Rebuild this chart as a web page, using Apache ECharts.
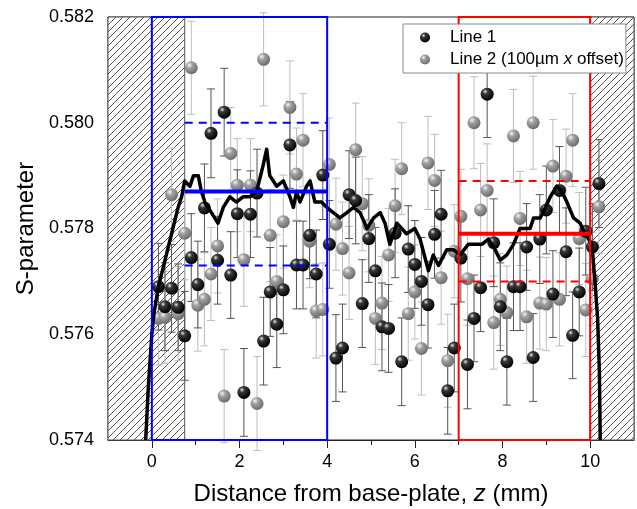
<!DOCTYPE html>
<html>
<head>
<meta charset="utf-8">
<script src="https://cdn.jsdelivr.net/npm/echarts@6/dist/echarts.min.js"></script>
<style>
html,body{margin:0;padding:0;background:#fff;}
#chart{width:637px;height:509px;}
</style>
</head>
<body>
<div id="chart"></div>
<script>
// ---- data ----
const xPos = [0.15,0.30,0.45,0.60,0.75,0.90,1.05,1.20,1.35,1.50,1.65,1.80,1.95,2.10,2.25,2.40,2.55,2.70,2.85,3.00,
  3.15,3.30,3.45,3.60,3.75,3.90,4.05,4.20,4.35,4.50,4.65,4.80,4.95,5.10,5.25,5.40,5.55,5.70,5.85,6.00,
  6.15,6.30,6.45,6.60,6.75,6.90,7.05,7.20,7.35,7.50,7.65,7.80,7.95,8.10,8.25,8.40,8.55,8.70,8.85,9.00,
  9.15,9.30,9.45,9.60,9.75,9.90,10.05,10.20];
const line1 = [0.57690,0.57652,0.57687,0.57651,0.57597,0.57745,0.57694,0.57839,0.57980,0.57740,0.58020,0.57712,0.57828,0.57490,0.57827,0.57867,0.57587,0.57680,0.57619,0.57684,
  0.57958,0.57731,0.57731,0.57787,0.57714,0.57901,0.57770,0.57555,0.57574,0.57864,0.57853,0.57658,0.57781,0.57720,0.57614,0.57611,0.57791,0.57548,0.57761,0.57732,
  0.57700,0.57656,0.57789,0.57827,0.57493,0.57574,0.57744,0.57543,0.57630,0.57688,0.58054,0.57773,0.57652,0.57548,0.57690,0.57690,0.57765,0.57556,0.57780,0.57835,
  0.57676,0.57872,0.57756,0.57598,0.57680,0.57795,0.57765,0.57885];
const line1Err = [0.00082,0.00083,0.00083,0.00082,0.00084,0.00083,0.00082,0.00083,0.00084,0.00083,0.00083,0.00082,0.00083,0.00083,0.00082,0.00083,0.00083,0.00084,0.00082,0.00083,
  0.00082,0.00083,0.00083,0.00082,0.00083,0.00084,0.00083,0.00082,0.00083,0.00083,0.00082,0.00083,0.00083,0.00082,0.00083,0.00083,0.00084,0.00083,0.00082,0.00083,
  0.00083,0.00082,0.00083,0.00083,0.00082,0.00083,0.00083,0.00084,0.00082,0.00083,0.00082,0.00083,0.00083,0.00082,0.00083,0.00083,0.00082,0.00083,0.00084,0.00083,
  0.00082,0.00083,0.00083,0.00082,0.00083,0.00083,0.00082,0.00083];
const line2 = [0.57630,0.57632,0.57864,0.57639,0.57791,0.58104,0.57655,0.57666,0.57714,0.57767,0.57483,0.57942,0.57882,0.57741,0.57882,0.57469,0.58120,0.57787,0.57700,0.57813,
  0.58029,0.57903,0.57967,0.57776,0.57644,0.57647,0.57921,0.57808,0.57762,0.57716,0.57949,0.57847,0.57806,0.57630,0.57659,0.57750,0.57843,0.57913,0.57639,0.57680,
  0.57573,0.57924,0.57891,0.57707,0.57550,0.57757,0.57823,0.57705,0.58000,0.57835,0.57872,0.57622,0.57666,0.57641,0.57975,0.57819,0.57633,0.58000,0.57659,0.57657,
  0.57918,0.57666,0.57899,0.57967,0.57781,0.57646,0.57705,0.57841];
const line2Err = [0.00088,0.00087,0.00088,0.00089,0.00088,0.00088,0.00087,0.00088,0.00088,0.00089,0.00088,0.00087,0.00088,0.00088,0.00088,0.00089,0.00088,0.00087,0.00088,0.00088,
  0.00088,0.00087,0.00088,0.00088,0.00089,0.00088,0.00088,0.00087,0.00088,0.00088,0.00088,0.00089,0.00088,0.00087,0.00088,0.00088,0.00088,0.00087,0.00088,0.00089,
  0.00088,0.00088,0.00087,0.00088,0.00088,0.00088,0.00089,0.00088,0.00087,0.00088,0.00088,0.00088,0.00087,0.00088,0.00088,0.00089,0.00088,0.00088,0.00087,0.00088,
  0.00088,0.00088,0.00089,0.00088,0.00087,0.00088,0.00088,0.00088];
// running average (thick black curve)
const avgX = [-0.14,-0.08,0.00,0.05,0.15,0.30,0.45,0.60,0.68,0.75,0.87,0.95,1.06,1.13,1.21,1.36,1.51,1.63,1.78,1.93,
  2.08,2.24,2.39,2.54,2.62,2.69,2.85,3.00,3.15,3.23,3.30,3.38,3.53,3.61,3.72,3.87,3.99,4.14,4.29,4.45,
  4.60,4.75,4.91,5.06,5.21,5.32,5.43,5.59,5.81,6.00,6.12,6.31,6.42,6.54,6.73,6.88,7.03,7.22,7.37,7.53,
  7.68,7.83,7.95,8.10,8.25,8.40,8.48,8.63,8.71,8.86,8.98,9.09,9.24,9.35,9.47,9.62,9.77,9.89,10.04,10.11,
  10.17,10.21,10.23];
const avgY = [0.5740,0.5750,0.5760,0.5764,0.5769,0.5774,0.5779,0.5784,0.5786,0.5789,0.5788,0.5790,0.5790,0.5787,0.5785,0.5783,0.5781,0.5784,0.5786,0.5785,
  0.5786,0.5786,0.5787,0.5792,0.5795,0.5790,0.5788,0.5789,0.5786,0.5784,0.5787,0.5785,0.5788,0.5789,0.5785,0.5785,0.5784,0.5783,0.5782,0.5783,
  0.5784,0.5783,0.5780,0.5782,0.5783,0.5781,0.5777,0.5781,0.5779,0.5780,0.5778,0.5772,0.5775,0.5773,0.5776,0.5776,0.5775,0.5777,0.5777,0.5777,
  0.5778,0.5776,0.5774,0.5775,0.5777,0.5780,0.5780,0.5780,0.5782,0.5782,0.5784,0.5786,0.5788,0.5787,0.5785,0.5782,0.5781,0.5779,0.5777,0.5770,
  0.5763,0.5753,0.5740];
// regions and statistics
const hatchLeft = [-1, 0.75];
const hatchRight = [10, 11];
const blueBox = [0, 4];
const redBox = [7, 10];
const blueSpan = [0.75, 4];
const redSpan = [7, 10];
const blueMean = 0.5787, blueUpper = 0.5800, blueLower = 0.5773;
const redMean = 0.5779, redUpper = 0.5789, redLower = 0.5770;
const yRange = [0.574, 0.582];
const xMajorTicks = [0, 2, 4, 6, 8, 10];
const xMinorTicks = [1, 3, 5, 7, 9];

// ---- build ----
const T = 7;
const pc = document.createElement('canvas');
pc.width = T; pc.height = T;
const g = pc.getContext('2d');
g.fillStyle = '#fff'; g.fillRect(0, 0, T, T);
g.strokeStyle = '#1a1a1a'; g.lineWidth = 0.75;
g.beginPath();
g.moveTo(0, T); g.lineTo(T, 0);
g.moveTo(-1, 1); g.lineTo(1, -1);
g.moveTo(T - 1, T + 1); g.lineTo(T + 1, T - 1);
g.stroke();
const hatchPattern = { image: pc, repeat: 'repeat' };

const pts1 = xPos.map((x, i) => [x, line1[i]]);
const pts2 = xPos.map((x, i) => [x, line2[i]]);
const eb1 = xPos.map((x, i) => [x, line1[i] - line1Err[i], line1[i] + line1Err[i]]);
const eb2 = xPos.map((x, i) => [x, line2[i] - line2Err[i], line2[i] + line2Err[i]]);
const avgPts = avgX.map((x, i) => [x, avgY[i]]);

function errRender(col) {
  return function (params, api) {
    const x = api.value(0), lo = api.value(1), hi = api.value(2);
    const p1 = api.coord([x, lo]), p2 = api.coord([x, hi]);
    const w = 4;
    const st = { stroke: col, lineWidth: 1 };
    return { type: 'group', children: [
      { type: 'line', shape: { x1: p1[0], y1: p1[1], x2: p2[0], y2: p2[1] }, style: st },
      { type: 'line', shape: { x1: p1[0] - w, y1: p1[1], x2: p1[0] + w, y2: p1[1] }, style: st },
      { type: 'line', shape: { x1: p2[0] - w, y1: p2[1], x2: p2[0] + w, y2: p2[1] }, style: st }
    ] };
  };
}
function rectRender(fill, stroke, lw) {
  return function (params, api) {
    const a = api.coord([api.value(0), api.value(3)]);
    const b = api.coord([api.value(1), api.value(2)]);
    return { type: 'rect', shape: { x: a[0], y: a[1], width: b[0] - a[0], height: b[1] - a[1] },
      style: { fill: fill, stroke: stroke, lineWidth: lw } };
  };
}
function segLine(name, span, val, color, width, dash, z) {
  return { type: 'line', name: name, data: [[span[0], val], [span[1], val]], showSymbol: false, symbol: 'none',
    lineStyle: { color: color, width: width, type: dash }, z: z, silent: true };
}
const blackBall = { type: 'radial', x: 0.35, y: 0.3, r: 0.7, colorStops: [
  { offset: 0, color: '#e6e6e6' }, { offset: 0.28, color: '#3a3a3a' }, { offset: 1, color: '#000' }] };
const grayBall = { type: 'radial', x: 0.35, y: 0.3, r: 0.7, colorStops: [
  { offset: 0, color: '#f4f4f4' }, { offset: 0.35, color: '#a0a0a0' }, { offset: 1, color: '#6e6e6e' }] };
const FONT = 'Liberation Sans, Arial, sans-serif';

const chart = echarts.init(document.getElementById('chart'));
chart.setOption({
  animation: false,
  backgroundColor: '#fff',
  textStyle: { fontFamily: FONT },
  grid: { left: 108, right: 3, top: 17, bottom: 69, show: true, borderColor: '#222', borderWidth: 1,
    backgroundColor: 'transparent', outerBoundsMode: 'none' },
  legend: {
    data: ['Line 1', 'Line 2 (100µm x offset)'],
    orient: 'vertical', left: 403, top: 24,
    padding: [5, 2, 5, 17], itemGap: 5,
    itemWidth: 10, itemHeight: 10, icon: 'circle',
    backgroundColor: '#fff', borderColor: '#888', borderWidth: 1, borderRadius: 0,
    formatter: function (n) { return n === 'Line 1' ? '{n|Line 1}' : '{n|Line 2 (100µm }{i|x}{n| offset)}'; },
    textStyle: { fontFamily: FONT, fontSize: 17, color: '#000', padding: [0, 0, 0, 15],
      rich: { n: { fontFamily: FONT, fontSize: 17, color: '#000' }, i: { fontFamily: FONT, fontSize: 17, color: '#000', fontStyle: 'italic' } } },
    z: 20
  },
  xAxis: [{
    type: 'value', min: -1, max: 11, position: 'bottom',
    name: 'Distance from base-plate, {i|z} (mm)', nameLocation: 'middle', nameGap: 42,
    nameTextStyle: { fontFamily: FONT, fontSize: 24, color: '#000',
      rich: { i: { fontFamily: FONT, fontSize: 24, color: '#000', fontStyle: 'italic' } } },
    axisLine: { show: true, lineStyle: { color: '#222', width: 1 } },
    axisTick: { show: true, inside: false, length: 8, customValues: xMajorTicks, lineStyle: { color: '#222' } },
    axisLabel: { show: true, customValues: xMajorTicks, margin: 13, fontSize: 18, color: '#000', fontFamily: FONT },
    splitLine: { show: false }
  }, {
    type: 'value', min: -1, max: 11, position: 'bottom', offset: 0,
    axisLine: { show: false },
    axisTick: { show: true, length: 5, customValues: xMinorTicks, lineStyle: { color: '#222' } },
    axisLabel: { show: false },
    splitLine: { show: false }
  }],
  yAxis: {
    type: 'value', min: yRange[0], max: yRange[1], interval: 0.002,
    name: 'S-parameter', nameLocation: 'middle', nameGap: 70,
    nameTextStyle: { fontFamily: FONT, fontSize: 24, color: '#000' },
    axisLine: { show: true, lineStyle: { color: '#222', width: 1 } },
    axisTick: { show: true, length: 8, lineStyle: { color: '#222' } },
    minorTick: { show: true, splitNumber: 2, length: 5, lineStyle: { color: '#222' } },
    axisLabel: { margin: 14, fontSize: 18, color: '#000', fontFamily: FONT,
      formatter: v => v.toFixed(3) },
    splitLine: { show: false }
  },
  series: [
    { type: 'custom', name: 'hatch', renderItem: rectRender(hatchPattern, '#555', 1),
      data: [[hatchLeft[0], hatchLeft[1], yRange[0], yRange[1]], [hatchRight[0], hatchRight[1], yRange[0], yRange[1]]],
      encode: { x: [0, 1], y: [2, 3] }, z: 1, silent: true },
    { type: 'custom', name: 'err2', renderItem: errRender('#bdbdbd'), data: eb2, encode: { x: 0, y: [1, 2] }, z: 2, silent: true },
    { type: 'custom', name: 'err1', renderItem: errRender('#555'), data: eb1, encode: { x: 0, y: [1, 2] }, z: 3, silent: true },
    { type: 'scatter', name: 'Line 2 (100µm x offset)', data: pts2, symbol: 'circle', symbolSize: 13,
      itemStyle: { color: grayBall, opacity: 1 }, z: 4 },
    { type: 'scatter', name: 'Line 1', data: pts1, symbol: 'circle', symbolSize: 13,
      itemStyle: { color: blackBall, opacity: 1 }, z: 5 },
    { type: 'line', name: 'avg', data: avgPts, showSymbol: false, symbol: 'none',
      lineStyle: { color: '#000', width: 3.5, join: 'round' }, z: 6, silent: true },
    segLine('bm', blueSpan, blueMean, '#0000ff', 4, 'solid', 7),
    segLine('bu', blueSpan, blueUpper, '#0000ff', 2, [8, 6], 7),
    segLine('bl', blueSpan, blueLower, '#0000ff', 2, [8, 6], 7),
    segLine('rm', redSpan, redMean, '#ff0000', 4, 'solid', 7),
    segLine('ru', redSpan, redUpper, '#ff0000', 2, [8, 6], 7),
    segLine('rl', redSpan, redLower, '#ff0000', 2, [8, 6], 7),
    { type: 'custom', name: 'boxes', renderItem: function (params, api) {
        const col = params.dataIndex === 0 ? '#0000ff' : '#ff0000';
        return rectRender('none', col, 2)(params, api);
      },
      data: [[blueBox[0], blueBox[1], yRange[0], yRange[1]], [redBox[0], redBox[1], yRange[0], yRange[1]]],
      encode: { x: [0, 1], y: [2, 3] }, z: 8, silent: true }
  ]
});
</script>
</body>
</html>
